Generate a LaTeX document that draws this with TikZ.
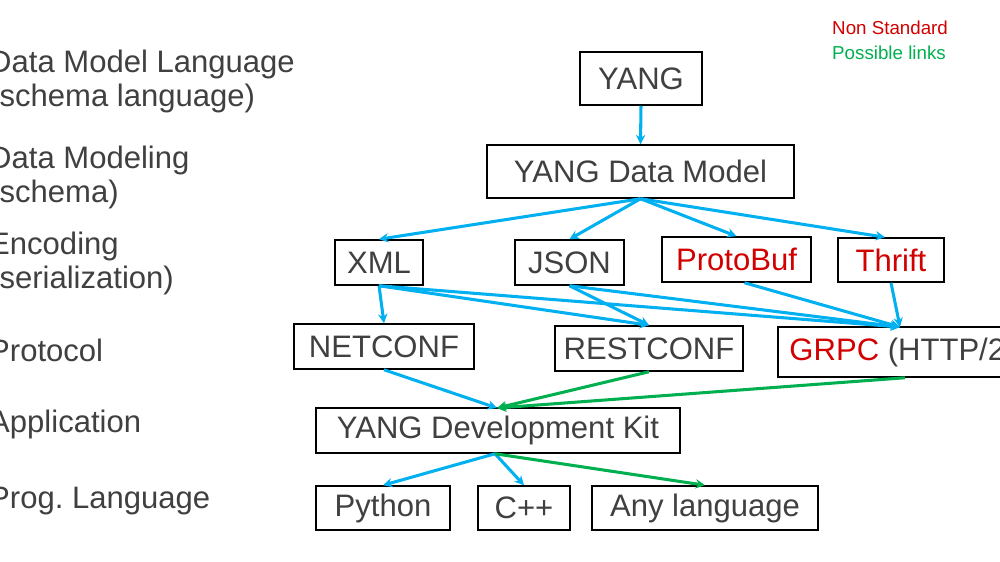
\documentclass[tikz,border=0pt]{standalone}
\usepackage{fontspec}
\setmainfont{Liberation Sans}
\usetikzlibrary{arrows.meta}
\definecolor{txt}{RGB}{64,64,64}
\definecolor{ared}{RGB}{210,0,0}
\definecolor{blu}{RGB}{0,176,240}
\definecolor{grn}{RGB}{0,176,80}
\begin{document}
\begin{tikzpicture}[x=0.03cm,y=-0.03cm,
  box/.style={draw=black,line width=1.3pt,inner sep=0pt,text=txt,font=\fontsize{26.5}{32}\selectfont},
  lab/.style={anchor=west,align=left,text=txt,font=\fontsize{26.5}{29}\selectfont,inner sep=0pt},
  bl/.style={draw=blu,line width=2.6pt,-{Stealth[length=8pt,width=8pt]}},
  gl/.style={draw=grn,line width=2.6pt,-{Stealth[length=8pt,width=8pt]}}]
\useasboundingbox (0,0) rectangle (1000,562);
\clip (0,0) rectangle (1000,562);
\fill[white] (0,0) rectangle (1000,562);
% left labels
\node[lab] (l1) at (-11,81) {Data Model Language\\(schema language)};
\node[lab] (l2) at (-11,177) {Data Modeling\\(schema)};
\node[lab] (l3) at (-11,263) {Encoding\\(serialization)};
\node[lab] (l4) at (-11,350) {Protocol};
\node[lab] (l5) at (-11,424) {Application};
\node[lab] (l6) at (-11,501) {Prog.\ Language};
% legend
\node[anchor=west,inner sep=0pt,text=ared,font=\fontsize{16}{18}\selectfont] (lg1) at (832,28) {Non Standard};
\node[anchor=west,inner sep=0pt,text=grn,font=\fontsize{16}{18}\selectfont] (lg2) at (832,53) {Possible links};
% boxes
\node[box,minimum width=122*0.03cm,minimum height=53*0.03cm] (yang) at (641,78.5) {YANG};
\node[box,minimum width=307*0.03cm,minimum height=53*0.03cm] (ydm) at (640.5,171.5) {YANG Data Model};
\node[box,minimum width=88*0.03cm,minimum height=45*0.03cm] (xml) at (379,262.5) {XML};
\node[box,minimum width=109*0.03cm,minimum height=45*0.03cm] (json) at (569.5,262.5) {JSON};
\node[box,text=ared,minimum width=149*0.03cm,minimum height=45*0.03cm] (pb) at (736.5,259.5) {ProtoBuf};
\node[box,text=ared,minimum width=106*0.03cm,minimum height=44*0.03cm] (th) at (891,260) {Thrift};
\node[box,minimum width=180*0.03cm,minimum height=45*0.03cm] (nc) at (384,346.5) {NETCONF};
\node[box,minimum width=188*0.03cm,minimum height=45*0.03cm] (rc) at (649,348.5) {RESTCONF};
\node[box,minimum width=232*0.03cm,minimum height=50*0.03cm] (gr) at (894,352) {};
\node[anchor=west,inner sep=0pt,text=txt,font=\fontsize{26.5}{32}\selectfont] (grt) at ([xshift=12*0.03cm]gr.west) {\textcolor{ared}{GRPC} (HTTP/2)};
\node[box,minimum width=364*0.03cm,minimum height=45*0.03cm] (ydk) at (498,430.5) {YANG Development Kit};
\node[box,minimum width=134*0.03cm,minimum height=44*0.03cm] (py) at (383,508) {Python};
\node[box,minimum width=92*0.03cm,minimum height=44*0.03cm] (cpp) at (524,508) {C++};
\node[box,minimum width=226*0.03cm,minimum height=44*0.03cm] (any) at (705,508) {Any language};
% arrows
\draw[bl] (yang.south) -- (ydm.north);
\draw[bl] (ydm.south) -- (xml.north);
\draw[bl] (ydm.south) -- (json.north);
\draw[bl] (ydm.south) -- (pb.north);
\draw[bl] (ydm.south) -- ([xshift=-6*0.03cm]th.north);
\coordinate (gt) at (900,327);
\draw[bl] (xml.south) -- (nc.north);
\draw[bl] (xml.south) -- (rc.north);
\draw[bl] (xml.south) -- (gt);
\draw[bl] (json.south) -- (rc.north);
\draw[bl] (json.south) -- (gt);
\draw[bl] ([xshift=8*0.03cm]pb.south) -- (gt);
\draw[bl] (th.south) -- (gt);
\coordinate (yt) at (497,408);
\draw[bl] (nc.south) -- (yt);
\draw[gl] (rc.south) -- (yt);
\draw[gl] ([xshift=11*0.03cm]gr.south) -- (yt);
\draw[bl] ([xshift=-3*0.03cm]ydk.south) -- (py.north);
\draw[bl] ([xshift=-3*0.03cm]ydk.south) -- (cpp.north);
\draw[gl] ([xshift=-3*0.03cm]ydk.south) -- (any.north);
\end{tikzpicture}
\end{document}
